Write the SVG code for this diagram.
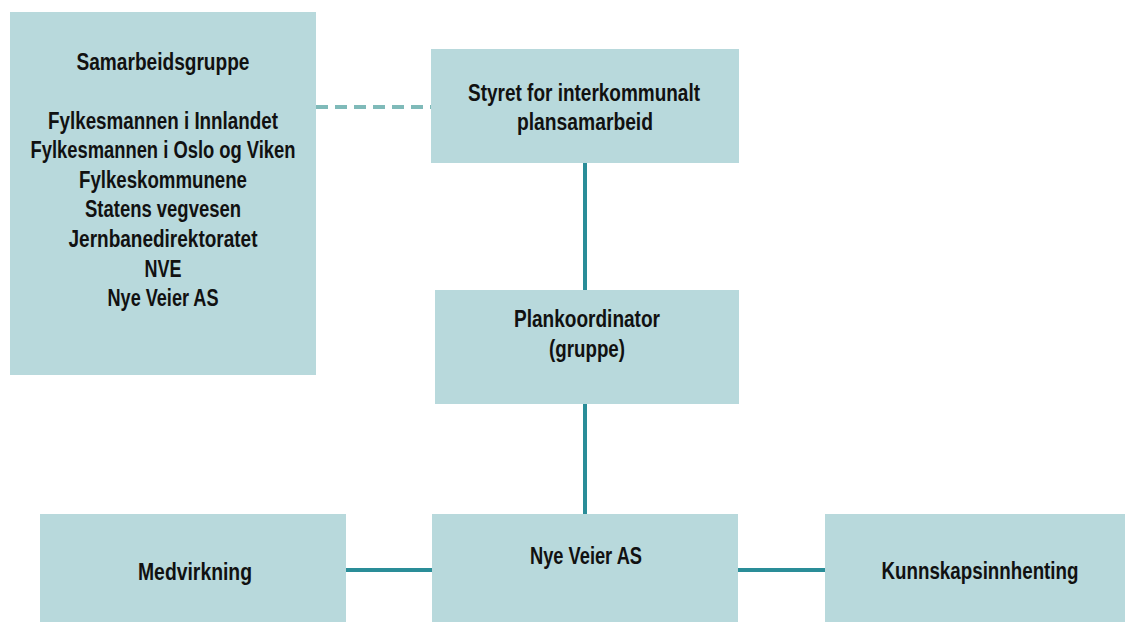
<svg xmlns="http://www.w3.org/2000/svg" width="1125" height="622" viewBox="0 0 1125 622">
<style>
.box{fill:#b8d9dc}
.t{font-family:"Liberation Sans","Arial",sans-serif;font-weight:bold;font-size:23px;fill:#111;text-anchor:middle}
.c{stroke:#2a8d98;stroke-width:4;fill:none}
.d{stroke:#7fbab9;stroke-width:4;fill:none;stroke-dasharray:12,7}
</style>
<rect width="1125" height="622" fill="#ffffff"/>
<g id="connectors">
<line class="d" x1="316" y1="107" x2="431" y2="107"/>
<line class="c" x1="585" y1="163" x2="585" y2="290"/>
<line class="c" x1="585" y1="404" x2="585" y2="514"/>
<line class="c" x1="346" y1="570" x2="432" y2="570"/>
<line class="c" x1="738" y1="570" x2="825" y2="570"/>
</g>
<g id="samarbeidsgruppe">
<rect class="box" x="10" y="12" width="306" height="363"/>
<text class="t" x="163" y="70" textLength="173" lengthAdjust="spacingAndGlyphs">Samarbeidsgruppe</text>
<text class="t" x="163" y="129" textLength="230" lengthAdjust="spacingAndGlyphs">Fylkesmannen i Innlandet</text>
<text class="t" x="163" y="158" textLength="265" lengthAdjust="spacingAndGlyphs">Fylkesmannen i Oslo og Viken</text>
<text class="t" x="163" y="188" textLength="168" lengthAdjust="spacingAndGlyphs">Fylkeskommunene</text>
<text class="t" x="163" y="217" textLength="156" lengthAdjust="spacingAndGlyphs">Statens vegvesen</text>
<text class="t" x="163" y="247" textLength="189" lengthAdjust="spacingAndGlyphs">Jernbanedirektoratet</text>
<text class="t" x="163" y="277" textLength="37" lengthAdjust="spacingAndGlyphs">NVE</text>
<text class="t" x="163" y="306" textLength="111" lengthAdjust="spacingAndGlyphs">Nye Veier AS</text>
</g>
<g id="styret">
<rect class="box" x="431" y="49" width="308" height="114"/>
<text class="t" x="584" y="101" textLength="232" lengthAdjust="spacingAndGlyphs">Styret for interkommunalt</text>
<text class="t" x="585" y="130" textLength="136" lengthAdjust="spacingAndGlyphs">plansamarbeid</text>
</g>
<g id="plankoordinator">
<rect class="box" x="435" y="290" width="304" height="114"/>
<text class="t" x="587" y="327" textLength="146" lengthAdjust="spacingAndGlyphs">Plankoordinator</text>
<text class="t" x="587" y="357" textLength="76" lengthAdjust="spacingAndGlyphs">(gruppe)</text>
</g>
<g id="medvirkning">
<rect class="box" x="40" y="514" width="306" height="108"/>
<text class="t" x="195" y="580" textLength="114" lengthAdjust="spacingAndGlyphs">Medvirkning</text>
</g>
<g id="nyeveier">
<rect class="box" x="432" y="514" width="306" height="108"/>
<text class="t" x="586" y="564" textLength="112" lengthAdjust="spacingAndGlyphs">Nye Veier AS</text>
</g>
<g id="kunnskap">
<rect class="box" x="825" y="514" width="300" height="108"/>
<text class="t" x="980" y="579" textLength="197" lengthAdjust="spacingAndGlyphs">Kunnskapsinnhenting</text>
</g>
</svg>
